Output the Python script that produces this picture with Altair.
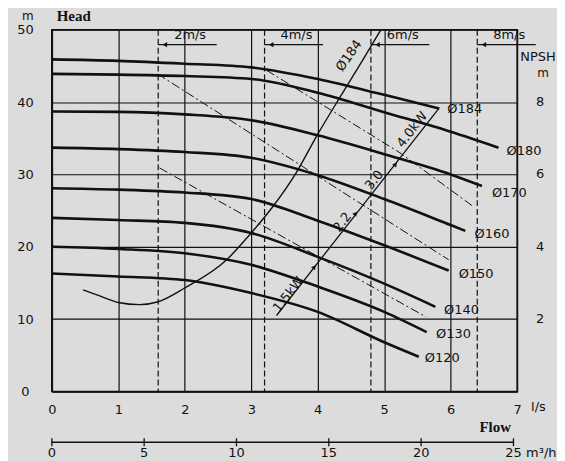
import altair as alt
import pandas as pd

# ---------------- data ----------------
dia_names = ["Ø184", "Ø180", "Ø170", "Ø160", "Ø150", "Ø140", "Ø130", "Ø120"]

q184 = [0, 1, 2, 3, 4, 5, 5.83]
h184 = [45.9, 45.7, 45.3, 44.8, 43.2, 41.0, 39.1]
q180 = [0, 1, 2, 3, 4, 5, 6, 6.72]
h180 = [43.9, 43.8, 43.6, 43.2, 41.3, 38.6, 35.9, 33.7]
q170 = [0, 1, 2, 3, 4, 5, 6, 6.47]
h170 = [38.7, 38.65, 38.3, 37.5, 35.4, 32.8, 30.0, 28.4]
q160 = [0, 1, 2, 3, 4, 5, 6, 6.22]
h160 = [33.7, 33.5, 33.1, 32.3, 29.9, 26.6, 23.0, 22.2]
q150 = [0, 1, 2, 3, 4, 5, 5.97]
h150 = [28.1, 27.9, 27.5, 26.6, 23.6, 20.2, 16.7]
q140 = [0, 1, 2, 3, 4, 5, 5.77]
h140 = [24.0, 23.7, 23.3, 21.9, 18.6, 14.9, 11.7]
q130 = [0, 1, 2, 3, 4, 5, 5.64]
h130 = [20.0, 19.7, 19.1, 17.5, 14.5, 11.0, 8.2]
q120 = [0, 1, 2, 3, 4, 5, 5.52]
h120 = [16.3, 15.9, 15.4, 13.6, 11.0, 6.8, 4.8]

# diameter label anchors (flow l/s, head m)
dia_lab_q = [5.95, 6.84, 6.62, 6.36, 6.12, 5.90, 5.78, 5.61]
dia_lab_h = [39.1, 33.3, 27.5, 21.8, 16.2, 11.2, 7.9, 4.6]

# NPSH curve (m of NPSH)
npsh_q = [0.47, 0.72, 1.0, 1.32, 1.6, 2.0, 2.63, 2.97, 3.32, 3.68, 3.99, 4.37, 4.67, 4.95]
npsh_m = [2.81, 2.64, 2.46, 2.40, 2.48, 2.86, 3.64, 4.32, 5.10, 6.06, 7.08, 8.24, 9.14, 10.0]
npsh_ticks = [2, 4, 6, 8]
npsh_lab = ["Ø184"]
npsh_lab_q = [4.47]
npsh_lab_m = [9.28]

# dash-dot lines
dd_id = ["a", "a", "b", "b", "b", "c", "c"]
dd_q = [1.59, 5.97, 3.23, 5.22, 6.35, 1.62, 5.63]
dd_h = [43.9, 18.2, 44.4, 33.1, 25.5, 30.9, 10.3]

# power line
pw_q = [3.38, 5.82]
pw_h = [10.5, 39.1]
pw_mark_q = [3.95, 4.57, 5.17]
pw_mark_h = [17.2, 24.6, 31.4]
pw_lab = ["1.5kW", "2.2", "3.0", "4.0kW"]
pw_lab_q = [3.56, 4.37, 4.85, 5.42]
pw_lab_h = [13.4, 23.4, 29.2, 36.2]

# velocity lines
vel_q = [1.6, 3.2, 4.8, 6.4]
vel_lab = ["2m/s", "4m/s", "6m/s", "8m/s"]

# axes
flow_ticks = [0, 1, 2, 3, 4, 5, 6, 7]
head_ticks = [0, 10, 20, 30, 40, 50]
m3h_ticks = [0, 5, 10, 15, 20, 25]

# ---------------- chart ----------------
W, H = 467, 363
INK = "#111111"
FONT = "DejaVu Sans"

xs = alt.Scale(domain=[0, 7], nice=False, zero=False)
ys = alt.Scale(domain=[0, 50], nice=False, zero=False)
xax = alt.Axis(values=flow_ticks, title=None)
yax = alt.Axis(values=head_ticks, title=None)


def X(f):
    return alt.X(f, type="quantitative", scale=xs, axis=xax)


def Y(f):
    return alt.Y(f, type="quantitative", scale=ys, axis=yax)


rows = []
for d, q, h in zip(dia_names, [q184, q180, q170, q160, q150, q140, q130, q120],
                   [h184, h180, h170, h160, h150, h140, h130, h120]):
    for i, (a, b) in enumerate(zip(q, h)):
        rows.append({"dia": d, "q": a, "h": b, "i": i})
curves_df = pd.DataFrame(rows)

dia_lab_df = pd.DataFrame({"t": dia_names, "q": dia_lab_q, "h": dia_lab_h})
npsh_df = pd.DataFrame({"q": npsh_q, "m": npsh_m})
npsh_lab_df = pd.DataFrame({"t": npsh_lab, "q": npsh_lab_q, "m": npsh_lab_m})
npsh_tick_df = pd.DataFrame({"m": npsh_ticks})
dd_df = pd.DataFrame({"id": dd_id, "q": dd_q, "h": dd_h})
pw_df = pd.DataFrame({"q": pw_q, "h": pw_h})
pw_mark_df = pd.DataFrame({"q": pw_mark_q, "h": pw_mark_h})
pw_lab_df = pd.DataFrame({"t": pw_lab, "q": pw_lab_q, "h": pw_lab_h})
vel_df = pd.DataFrame({"q": vel_q, "t": vel_lab})
m3h_df = pd.DataFrame({"v": m3h_ticks})

vel_rules = alt.Chart(vel_df).mark_rule(
    color=INK, strokeWidth=1.2, strokeDash=[6, 3]
).encode(x=X("q"), y=alt.value(0), y2=alt.value(H))

vel_under = alt.Chart(vel_df).transform_calculate(q2="datum.q + 0.88").mark_rule(
    color=INK, strokeWidth=1.2
).encode(x=X("q"), x2=alt.X2("q2"), y=alt.value(15))

vel_arrow = alt.Chart(vel_df).transform_calculate(qa="datum.q + 0.1").mark_point(
    shape="triangle-left", filled=True, size=28, color=INK, opacity=1
).encode(x=X("qa"), y=alt.value(15))

vel_text = alt.Chart(vel_df).transform_calculate(qt="datum.q + 0.24").mark_text(
    align="left", baseline="bottom", font=FONT, fontSize=13, color=INK
).encode(x=X("qt"), y=alt.value(12), text="t:N")

dd_lines = alt.Chart(dd_df).mark_line(
    color=INK, strokeWidth=1.0, strokeDash=[9, 3, 2, 3]
).encode(x=X("q"), y=Y("h"), detail="id:N")

npsh_line = alt.Chart(npsh_df).transform_calculate(h="datum.m * 5").mark_line(
    color=INK, strokeWidth=1.4, interpolate="monotone"
).encode(x=X("q"), y=Y("h"))

npsh_label = alt.Chart(npsh_lab_df).transform_calculate(h="datum.m * 5").mark_text(
    angle=305, font=FONT, fontSize=13, color=INK, align="center", baseline="middle"
).encode(x=X("q"), y=Y("h"), text="t:N")

pw_line = alt.Chart(pw_df).mark_line(color=INK, strokeWidth=1.3).encode(
    x=X("q"), y=Y("h"))

pw_marks = alt.Chart(pw_mark_df).mark_point(
    shape="triangle-up", filled=True, size=26, angle=38, color=INK, opacity=1
).encode(x=X("q"), y=Y("h"))

pw_labels = alt.Chart(pw_lab_df).mark_text(
    angle=308, font=FONT, fontSize=13, color=INK, align="center", baseline="middle"
).encode(x=X("q"), y=Y("h"), text="t:N")

head_lines = alt.Chart(curves_df).mark_line(
    color=INK, strokeWidth=2.6, interpolate="monotone"
).encode(x=X("q"), y=Y("h"), detail="dia:N", order="i:Q")

dia_labels = alt.Chart(dia_lab_df).mark_text(
    align="left", baseline="middle", font=FONT, fontSize=13, color=INK
).encode(x=X("q"), y=Y("h"), text="t:N")

npsh_axis_labels = alt.Chart(npsh_tick_df).transform_calculate(h="datum.m * 5").mark_text(
    align="center", baseline="middle", font=FONT, fontSize=13, color=INK
).encode(x=alt.value(W + 23), y=Y("h"), text="m:Q")

# second flow axis in m3/h
m3h_rule = alt.Chart(m3h_df).transform_aggregate(vmax="max(v)").transform_calculate(
    q0="0", q1="datum.vmax / 3.6"
).mark_rule(color=INK, strokeWidth=1.3).encode(
    x=X("q0"), x2=alt.X2("q1"), y=alt.value(414))

m3h_tickmarks = alt.Chart(m3h_df).transform_calculate(q="datum.v / 3.6").mark_rule(
    color=INK, strokeWidth=1.3
).encode(x=X("q"), y=alt.value(410), y2=alt.value(418))

m3h_labels = alt.Chart(m3h_df).transform_calculate(q="datum.v / 3.6").mark_text(
    align="center", baseline="middle", font=FONT, fontSize=13, color=INK
).encode(x=X("q"), y=alt.value(425), text="v:Q")


def label(txt, x, y, **kw):
    opts = dict(font=FONT, fontSize=13, color=INK, align="center", baseline="middle")
    opts.update(kw)
    return alt.Chart(pd.DataFrame({"t": [txt]})).mark_text(**opts).encode(
        x=alt.value(x), y=alt.value(y), text="t:N")


texts = [
    label("m", -24, -14, fontSize=12),
    label("Head", 22, -14, font="Liberation Serif", fontWeight="bold", fontSize=15),
    label("NPSH", 488, 27),
    label("m", 493, 43, fontSize=12),
    label("l/s", 481, 379, align="left"),
    label("m³/h", 476, 425, align="left"),
    label("Flow", 445, 399, font="Liberation Serif", fontWeight="bold", fontSize=15),
]

chart = alt.layer(
    vel_rules, vel_under, vel_arrow, vel_text, dd_lines, npsh_line, npsh_label,
    pw_line, pw_marks, pw_labels, head_lines, dia_labels, npsh_axis_labels,
    m3h_rule, m3h_tickmarks, m3h_labels, *texts
).properties(
    width=W, height=H,
    autosize=alt.AutoSizeParams(type="none"),
    padding={"left": 44, "top": 21, "right": 40, "bottom": 76},
    background="#dcdcdc",
).configure_view(
    stroke=INK, strokeWidth=1.6
).configure_axis(
    labelFont=FONT, labelFontSize=13, labelColor=INK,
    domainColor=INK, domainWidth=1.6,
    grid=True, gridColor=INK, gridWidth=1.2, gridOpacity=1,
    ticks=False, tickSize=0, labelFlush=False, labelOverlap=False,
).configure_axisX(
    labelPadding=18, labelBaseline="middle", labelAlign="center"
).configure_axisY(
    labelPadding=27, labelBaseline="middle", labelAlign="center"
)

chart.save("out.html", embed_options={"renderer": "svg", "actions": False})
